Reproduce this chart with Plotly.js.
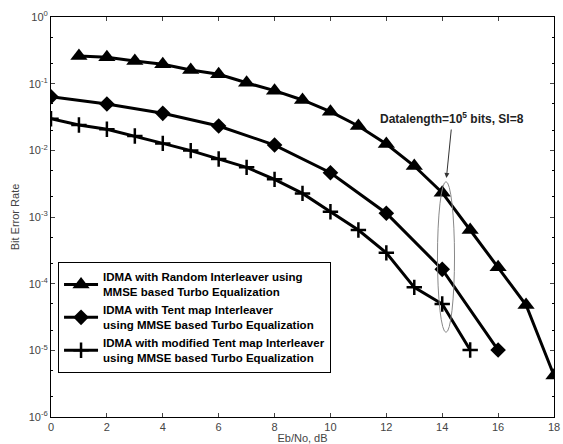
<!DOCTYPE html>
<html>
<head>
<meta charset="utf-8">
<script src="https://cdn.plot.ly/plotly-3.0.1.min.js"></script>
<style>html,body{margin:0;padding:0;background:#fff}#chart{width:563px;height:444px}</style>
</head>
<body>
<div id="chart"></div>
<script>
const xRandom = [1,2,3,4,5,6,7,8,9,10,11,12,13,14,15,16,17,18];
const berRandom = [0.26,0.248,0.219,0.195,0.16,0.138,0.103,0.0785,0.0569,0.038,0.0232,0.01245,0.00582,0.00232,0.000638,0.000176,0.0000479,0.0000042];
const xTent = [0,2,4,6,8,10,12,14,16];
const berTent = [0.0638,0.0495,0.0359,0.0232,0.012,0.00462,0.00114,0.000164,0.0000101];
const xModTent = [0,1,2,3,4,5,6,7,8,9,10,11,12,13,14,15];
const berModTent = [0.0298,0.024,0.0207,0.0164,0.0127,0.0099,0.0074,0.00556,0.00367,0.00226,0.0012,0.000638,0.00029,0.000088,0.0000495,0.0000101];
const seriesNames = [
  'IDMA with Random Interleaver using<br>MMSE based Turbo Equalization',
  'IDMA with Tent map Interleaver<br>using MMSE based Turbo Equalization',
  'IDMA with modified Tent map Interleaver<br>using MMSE based Turbo Equalization'
];
const yTickVals = [1,0.1,0.01,0.001,0.0001,0.00001,0.000001];
const yTickText = ['10<sup>0</sup>','10<sup>-1</sup>','10<sup>-2</sup>','10<sup>-3</sup>','10<sup>-4</sup>','10<sup>-5</sup>','10<sup>-6</sup>'];
const xTickVals = [0,2,4,6,8,10,12,14,16,18];
const annotationText = 'Datalength=10<sup>5</sup> bits, SI=8';

const lineStyle = {color:'#000', width:3};
const traces = [
  {x:xRandom, y:berRandom, name:seriesNames[0], mode:'lines+markers', line:lineStyle,
   marker:{symbol:'triangle-up', size:15, color:'#000'}},
  {x:xTent, y:berTent, name:seriesNames[1], mode:'lines+markers', line:lineStyle,
   marker:{symbol:'diamond', size:12, color:'#000'}},
  {x:xModTent, y:berModTent, name:seriesNames[2], mode:'lines+markers', line:lineStyle,
   marker:{symbol:'cross-thin', size:11, color:'#000', line:{color:'#000', width:2.5}}}
];

const tickFont = {family:'Arial, Liberation Sans, sans-serif', size:11, color:'#444'};
const layout = {
  width:563, height:444,
  margin:{l:51, r:9, t:17, b:27},
  paper_bgcolor:'#fff', plot_bgcolor:'#fff',
  showlegend:true,
  legend:{x:0.014, y:0.3875, xanchor:'left', yanchor:'top', bgcolor:'#fff',
    bordercolor:'#000', borderwidth:1, itemwidth:34, tracegroupgap:6,
    font:{family:'Arial, Liberation Sans, sans-serif', size:11.5, color:'#000', weight:'bold'}},
  xaxis:{range:[0,18], tickvals:xTickVals, ticks:'inside', ticklen:4, mirror:'ticks',
    showline:true, linecolor:'#000', linewidth:1, showgrid:false, zeroline:false,
    tickfont:tickFont,
    title:{text:'Eb/No, dB', font:{family:'Arial, Liberation Sans, sans-serif', size:11, color:'#444'}, standoff:2}},
  yaxis:{type:'log', range:[-6,0], tickvals:yTickVals, ticktext:yTickText, ticks:'inside', ticklen:4,
    mirror:'ticks', showline:true, linecolor:'#000', linewidth:1, showgrid:false, zeroline:false,
    tickfont:tickFont,
    minor:{ticks:'inside', ticklen:2, tickcolor:'#000', showgrid:false},
    title:{text:'Bit Error Rate', font:{family:'Arial, Liberation Sans, sans-serif', size:11, color:'#444'}, standoff:6}},
  shapes:[
    {type:'circle', xref:'x', yref:'y', x0:13.83, x1:14.44, y0:0.0000186, y1:0.00339,
     line:{color:'#888', width:1}}
  ],
  annotations:[
    {x:14.15, y:-2.415, xref:'x', yref:'y', ax:5, ay:-50,
     text:'', showarrow:true, arrowhead:2, arrowsize:1, arrowwidth:1, arrowcolor:'#333'},
    {x:14.34, y:-1.515, xref:'x', yref:'y', text:annotationText, showarrow:false,
     font:{family:'Arial, Liberation Sans, sans-serif', size:12, color:'#222', weight:'bold'}}
  ]
};
Plotly.newPlot('chart', traces, layout, {displayModeBar:false, staticPlot:true});
</script>
</body>
</html>
